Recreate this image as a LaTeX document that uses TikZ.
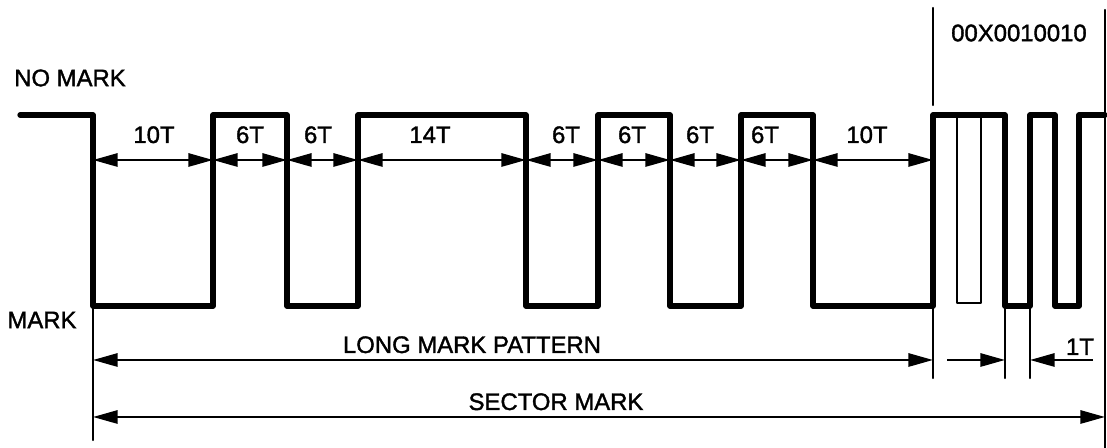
\documentclass[tikz,border=0pt]{standalone}
\usepackage{fontspec}
\setmainfont{Liberation Sans}[FakeBold=1.5]
\usetikzlibrary{arrows.meta}

\tikzset{
	wave/.style={line width=3pt, line join=round, line cap=round},
	thinwave/.style={line width=1.5pt, line join=round},
	guide/.style={line width=1.3pt, line cap=round},
	dimarrow/.style={line width=1.3pt, {Triangle[length=14pt,width=7.5pt]}-{Triangle[length=14pt,width=7.5pt]}},
	onearrow/.style={line width=1.3pt, -{Triangle[length=14pt,width=7.5pt]}},
	lbl/.style={font=\fontsize{13.6}{16}\selectfont, inner sep=0pt}
}

\begin{document}
\begin{tikzpicture}[x=0.02cm, y=-0.02cm]
	\useasboundingbox (0,0) rectangle (1107,448);

	\def\hi{115}
	\def\lo{306}
	\def\dimy{160}

	% signal levels
	\node[lbl] (nomark) at (70,78) {NO MARK};
	\node[lbl] (mark) at (42,320) {MARK};

	% long mark pattern followed by the data bits
	\draw[wave] (20,\hi) -- (93,\hi) -- (93,\lo) -- (213,\lo) -- (213,\hi) -- (287,\hi) -- (287,\lo)
		-- (358,\lo) -- (358,\hi) -- (526,\hi) -- (526,\lo) -- (598,\lo) -- (598,\hi) -- (670,\hi)
		-- (670,\lo) -- (741,\lo) -- (741,\hi) -- (813,\hi) -- (813,\lo) -- (933,\lo) -- (933,\hi)
		-- (1005,\hi) -- (1005,\lo) -- (1030,\lo) -- (1030,\hi) -- (1055,\hi) -- (1055,\lo)
		-- (1079,\lo) -- (1079,\hi) -- (1105,\hi);
	\draw[thinwave] (957,\hi) -- (957,303) -- (981,303) -- (981,\hi);

	% run lengths
	\foreach[count=\i] \a/\b/\t/\m in {93/213/10T/154, 213/287/6T/250, 287/358/6T/318, 358/526/14T/430,
		526/598/6T/566, 598/670/6T/632, 670/741/6T/700, 741/813/6T/765, 813/933/10T/867}
	{
		\draw[dimarrow] (\a,\dimy) -- (\b,\dimy);
		\node[lbl, anchor=base] (run\i) at (\m,143) {\t};
	}

	% guide lines
	\draw[guide] (933,8) -- (933,105);
	\draw[guide] (93,\lo) -- (93,440);
	\draw[guide] (933,\lo) -- (933,378);
	\draw[guide] (1005,\lo) -- (1005,378);
	\draw[guide] (1030,\lo) -- (1030,378);
	\draw[guide] (1105,10) -- (1105,448);

	\node[lbl] (bits) at (1019,33) {00X0010010};

	% pattern lengths
	\draw[dimarrow] (93,360) -- (933,360);
	\node[lbl, anchor=base] (longmark) at (472,353) {LONG MARK PATTERN};
	\draw[onearrow] (947,360) -- (1005,360);
	\draw[onearrow] (1093,360) -- (1030,360);
	\node[lbl, anchor=base] (onet) at (1080,355) {1T};

	\draw[dimarrow] (93,417) -- (1105,417);
	\node[lbl, anchor=base] (sector) at (556,410) {SECTOR MARK};
\end{tikzpicture}
\end{document}
